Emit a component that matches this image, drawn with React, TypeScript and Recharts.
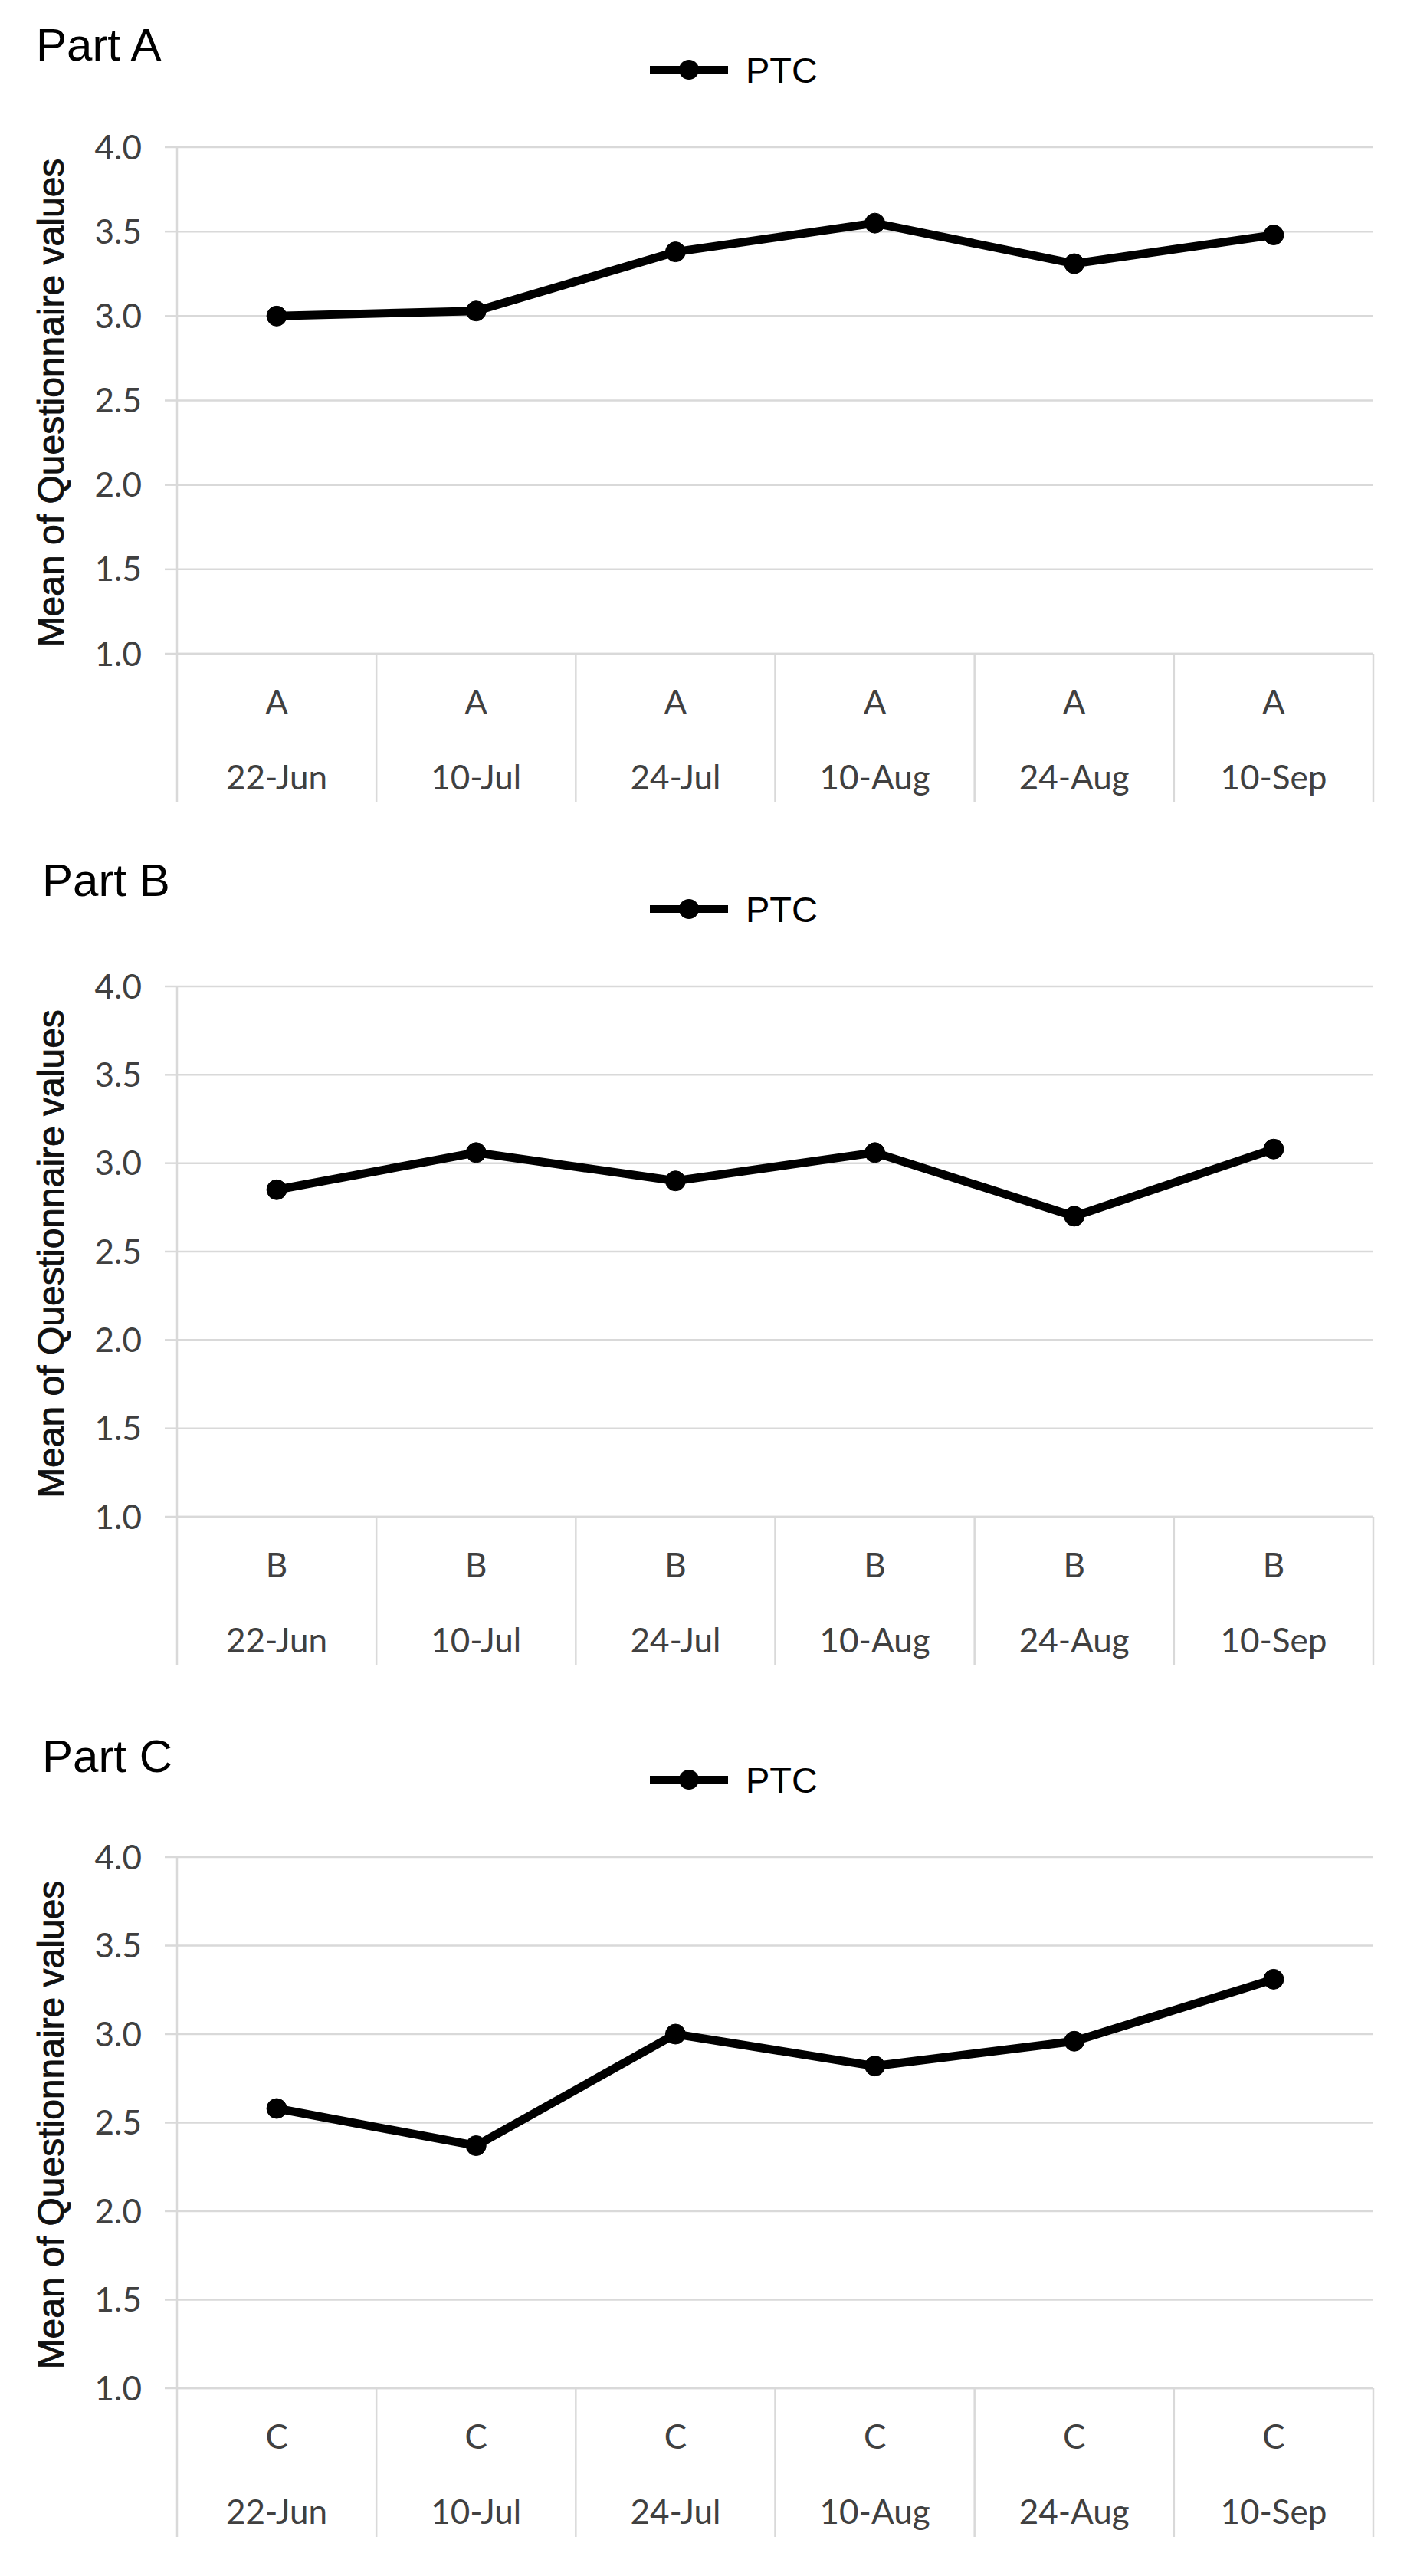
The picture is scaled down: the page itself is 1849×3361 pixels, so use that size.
import React from 'react'
import { LineChart, Line, XAxis, YAxis, CartesianGrid, Legend } from 'recharts'

// values (mean questionnaire score per session)
const dates = ['22-Jun', '10-Jul', '24-Jul', '10-Aug', '24-Aug', '10-Sep']
const partA = [3.0, 3.03, 3.38, 3.55, 3.31, 3.48]
const partB = [2.85, 3.06, 2.9, 3.06, 2.7, 3.08]
const partC = [2.58, 2.37, 3.0, 2.82, 2.96, 3.31]
const yTicks = [1.0, 1.5, 2.0, 2.5, 3.0, 3.5, 4.0]
const seriesName = 'PTC'
const yTitle = 'Mean of Questionnaire values'

const W = 1849
const PLOT_LEFT = 231
const PLOT_RIGHT = 1792
const TOP = 192
const X_AXIS_H = 194
const Y_AXIS_W = 200
const BAND = (PLOT_RIGHT - PLOT_LEFT) / dates.length
const GRID = '#d9d9d9'
const TICK_FONT = 'Lato, "Open Sans", sans-serif'
const ARIAL = '"Liberation Sans", Arial, sans-serif'

type Panel = { key: string; title: string; group: string; values: number[]; top: number; plotH: number; titleTop: number; titleLeft: number }

const panels: Panel[] = [
  { key: 'A', title: 'Part A', group: 'A', values: partA, top: 0, plotH: 661, titleTop: 29, titleLeft: 47 },
  { key: 'B', title: 'Part B', group: 'B', values: partB, top: 1095, plotH: 692, titleTop: 24, titleLeft: 55 },
  { key: 'C', title: 'Part C', group: 'C', values: partC, top: 2231, plotH: 693, titleTop: 31, titleLeft: 55 },
]

const CategoryTick = (props: any) => {
  const { x, y, payload, index, group } = props
  const half = BAND / 2
  const isLast = index === dates.length - 1
  return (
    <g>
      <line x1={x - half} y1={y} x2={x - half} y2={y + X_AXIS_H} stroke={GRID} strokeWidth={2.5} />
      {isLast && <line x1={x + half} y1={y} x2={x + half} y2={y + X_AXIS_H} stroke={GRID} strokeWidth={2.5} />}
      <text x={x} y={y + 79} textAnchor="middle" fill="#404040" fontSize={44} fontFamily={TICK_FONT}>
        {group}
      </text>
      <text x={x} y={y + 177} textAnchor="middle" fill="#404040" fontSize={44} fontFamily={TICK_FONT}>
        {payload.value}
      </text>
    </g>
  )
}

const AxisTitle = (props: any) => {
  const vb = props.viewBox || { x: 31, y: TOP, width: Y_AXIS_W, height: 661 }
  const cx = vb.x + 35
  const cy = vb.y + vb.height / 2 + 3
  return (
    <text
      x={cx}
      y={cy}
      transform={`rotate(-90 ${cx} ${cy})`}
      textAnchor="middle"
      dominantBaseline="central"
      fontSize={48}
      fontFamily={ARIAL}
      fill="#111"
      stroke="#111"
      strokeWidth={0.9}
    >
      {yTitle}
    </text>
  )
}

const LegendContent = () => (
  <svg width={320} height={60} style={{ display: 'block', overflow: 'visible' }}>
    <line x1={8} y1={30} x2={110} y2={30} stroke="#000" strokeWidth={10} />
    <circle cx={59} cy={30} r={13} fill="#000" />
    <text x={133} y={47} fontSize={47} fontFamily={ARIAL} fill="#000">
      {seriesName}
    </text>
  </svg>
)

const PanelChart = ({ p }: { p: Panel }) => {
  const data = dates.map((d, i) => ({ date: d, value: p.values[i] }))
  const height = TOP + p.plotH + X_AXIS_H + 10
  return (
    <div style={{ position: 'absolute', left: 0, top: p.top, width: W, height }}>
      <div
        style={{
          position: 'absolute',
          left: p.titleLeft,
          top: p.titleTop,
          fontFamily: ARIAL,
          fontSize: 60,
          lineHeight: '60px',
          color: '#000',
          zIndex: 2,
          whiteSpace: 'nowrap',
        }}
      >
        {p.title}
      </div>
      <LineChart
        width={W}
        height={height}
        data={data}
        margin={{ top: TOP, right: W - PLOT_RIGHT, bottom: 10, left: PLOT_LEFT - Y_AXIS_W }}
      >
        <CartesianGrid vertical={false} stroke={GRID} strokeWidth={2.5} />
        <XAxis
          dataKey="date"
          interval={0}
          height={X_AXIS_H}
          tickSize={0}
          tickMargin={0}
          tickLine={false}
          axisLine={{ stroke: GRID, strokeWidth: 2.5 }}
          padding={{ left: BAND / 2, right: BAND / 2 }}
          tick={<CategoryTick group={p.group} />}
        />
        <YAxis
          type="number"
          domain={[1, 4]}
          ticks={yTicks}
          interval={0}
          width={Y_AXIS_W}
          tickSize={16}
          tickMargin={30}
          tickLine={{ stroke: GRID, strokeWidth: 2.5 }}
          axisLine={{ stroke: GRID, strokeWidth: 2.5 }}
          tickFormatter={(v: number) => v.toFixed(1)}
          tick={{ fill: '#404040', fontSize: 44, fontFamily: TICK_FONT }}
          label={<AxisTitle />}
        />
        <Legend
          layout="horizontal"
          verticalAlign="middle"
          align="center"
          content={<LegendContent />}
          wrapperStyle={{ position: 'absolute', left: 840, top: 61, width: 320, height: 60 }}
        />
        <Line
          type="linear"
          dataKey="value"
          name={seriesName}
          stroke="#000"
          strokeWidth={11}
          dot={{ r: 13, fill: '#000', stroke: '#000', strokeWidth: 1 }}
          activeDot={false}
          isAnimationActive={false}
        />
      </LineChart>
    </div>
  )
}

export default function App() {
  return (
    <div style={{ position: 'absolute', left: 0, top: 0, width: W, height: 3361, background: '#fff' }}>
      {panels.map((p) => (
        <PanelChart key={p.key} p={p} />
      ))}
    </div>
  )
}
